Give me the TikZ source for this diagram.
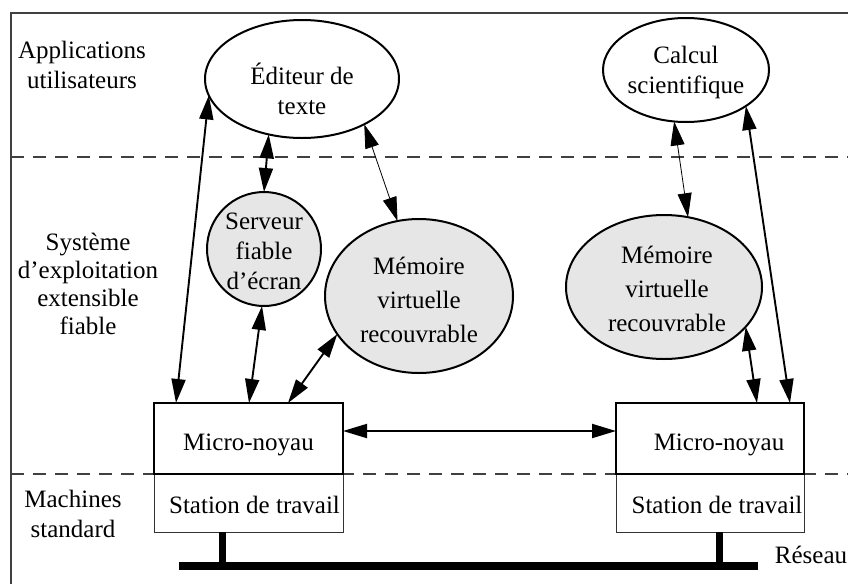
\documentclass[tikz,border=0pt]{standalone}
\usepackage{fontspec}
\setmainfont{Liberation Serif}
\usetikzlibrary{shapes.geometric,arrows.meta}

\definecolor{shade}{HTML}{E6E6E6}
\definecolor{rule}{HTML}{404040}

\begin{document}
\begin{tikzpicture}[x=1pt,y=-1pt,
  every node/.style={inner sep=0pt,outer sep=0pt},
  txt/.style={align=center,font=\fontsize{25}{30}\selectfont},
  memtxt/.style={align=center,font=\fontsize{25}{34}\selectfont},
  sidetxt/.style={align=center,font=\fontsize{25}{28}\selectfont},
  ell/.style={ellipse,draw,line width=2pt},
  grayell/.style={ellipse,draw,line width=2pt,fill=shade},
  kernel/.style={rectangle,draw,line width=2.2pt},
  station/.style={rectangle,draw=black!80,line width=1pt},
  layer/.style={rule,line width=1.8pt,dash pattern=on 13pt off 9pt},
  link/.style={line width=1.9pt,{Triangle[length=24pt,width=14pt]}-{Triangle[length=24pt,width=14pt]}},
  thinlink/.style={line width=0.8pt,{Triangle[length=24pt,width=14pt]}-{Triangle[length=24pt,width=14pt]}},
  busline/.style={line width=8pt}
]
\useasboundingbox (0,0) rectangle (848,584);

% frame corner
\coordinate (fTL) at (11,13);
\coordinate (fTR) at (848,13);
\coordinate (fBL) at (11,584);
\draw[rule,line width=1.4pt] (fTR) -- (fTL) -- (fBL);

% layer separators
\coordinate (sepA1) at (11,157);
\coordinate (sepA2) at (848,157);
\coordinate (sepB1) at (11,474);
\coordinate (sepB2) at (848,474);
\draw[layer] (sepA1) -- (sepA2);
\draw[layer] (sepB1) -- (sepB2);

% layer names
\node[txt] (lApp) at (82,65) {Applications\\utilisateurs};
\node[sidetxt] (lSys) at (88,284) {Système\\d’exploitation\\extensible\\fiable};
\node[txt] (lMach) at (73,514) {Machines\\standard};

% applications
\node[ell,minimum width=194pt,minimum height=118pt] (edit) at (302,79) {};
\node[txt] (editT) at (302,89) {Éditeur de\\texte};
\node[ell,minimum width=166pt,minimum height=104pt] (calc) at (686,70) {};
\node[txt] (calcT) at (686,72) {Calcul\\scientifique};

% system services
\node[grayell,minimum width=114pt,minimum height=114pt] (serv) at (264,249) {};
\node[txt] (servT) at (264,251) {Serveur\\fiable\\d’écran};
\node[grayell,minimum width=188pt,minimum height=154pt] (mem1) at (419,296) {};
\node[memtxt] (mem1T) at (419,300) {Mémoire\\virtuelle\\recouvrable};
\node[grayell,minimum width=196pt,minimum height=144pt] (mem2) at (664,287) {};
\node[memtxt] (mem2T) at (667,289) {Mémoire\\virtuelle\\recouvrable};

% workstations
\node[station,minimum width=189pt,minimum height=58pt] (st1) at (248.5,503) {};
\node[kernel,minimum width=189pt,minimum height=71pt] (mk1) at (248.5,438.5) {};
\node[txt] (mk1T) at (248.5,445) {Micro-noyau};
\node[txt] (st1T) at (254.5,505) {Station de travail};

\node[station,minimum width=188pt,minimum height=58pt] (st2) at (710,503) {};
\node[kernel,minimum width=188pt,minimum height=71pt] (mk2) at (710,438.5) {};
\node[txt] (mk2T) at (719,445) {Micro-noyau};
\node[txt] (st2T) at (717,505) {Station de travail};

% network
\coordinate (busL) at (179,566);
\coordinate (busR) at (758,566);
\draw[busline] (busL) -- (busR);
\draw[line width=7pt] ([xshift=-26pt]st1.south) -- ([xshift=-26pt]st1.south |- busL);
\draw[line width=7pt] ([xshift=9pt]st2.south) -- ([xshift=9pt]st2.south |- busR);
\node[txt] (net) at (811,555) {Réseau};

% interactions
\draw[link] (edit.190) -- ([xshift=22pt]mk1.north west);
\draw[link] (edit.239) -- (serv.90);
\draw[link] (serv.268) -- ([xshift=95pt]mk1.north west);
\draw[link] (mem1.205) -- ([xshift=134pt]mk1.north west);
\draw[thinlink] (edit.324) -- (mem1.106);
\draw[link] ([yshift=7.5pt]mk1.east) -- ([yshift=7.5pt]mk2.west);
\draw[thinlink] (calc.257) -- (mem2.71);
\draw[link] (calc.329) -- ([xshift=174pt]mk2.north west);
\draw[link] (mem2.334) -- ([xshift=141pt]mk2.north west);
\end{tikzpicture}
\end{document}
